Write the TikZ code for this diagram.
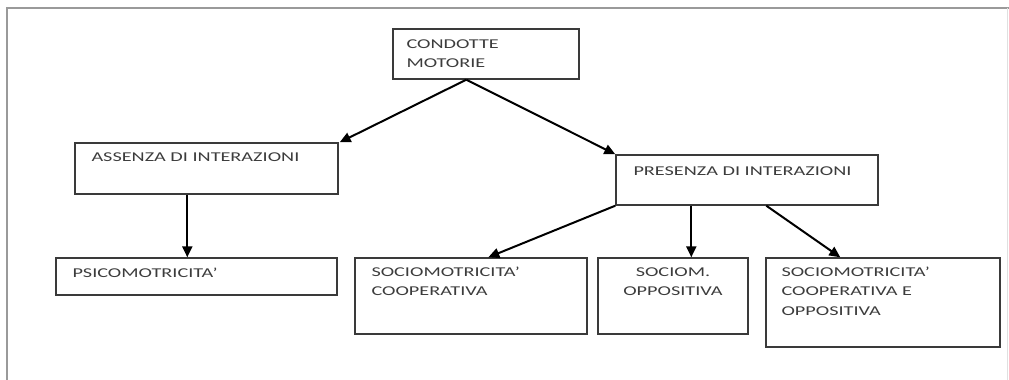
\documentclass[tikz,border=0pt]{standalone}
\usepackage{fontspec}
\setmainfont{Carlito}[FakeStretch=1.5]
\usetikzlibrary{arrows.meta,calc}
\definecolor{boxline}{HTML}{3A3A3A}
\definecolor{txt}{HTML}{3C3C3C}
\definecolor{frame}{HTML}{9A9A9A}
\begin{document}
\begin{tikzpicture}[x=1pt,y=-1pt,
  box/.style={draw=boxline,line width=1.4pt,rectangle,inner sep=0pt},
  lbl/.style={text=txt,font=\fontsize{13.5}{19.5}\selectfont,inner sep=0pt,align=left},
  conn/.style={draw=black,line width=2pt,-{Triangle[length=11pt,width=10pt]}}]
\useasboundingbox (0,0) rectangle (1009,380);
% frame
\draw[frame,line width=2pt] (7,380) coordinate (f1) -- (7,7.5) coordinate (f2) -- (1009,7.5) coordinate (f3);
\draw[black!12,line width=1pt] (1007.5,7.5) coordinate (f4) -- (1007.5,380) coordinate (f5);
% boxes
\node[box,minimum width=186pt,minimum height=50pt] (cm) at (486,54) {};
\node[box,minimum width=263pt,minimum height=51pt] (as) at (206.5,168.5) {};
\node[box,minimum width=262pt,minimum height=50pt] (pr) at (747,180) {};
\node[box,minimum width=281pt,minimum height=37pt] (ps) at (196.5,276.5) {};
\node[box,minimum width=232pt,minimum height=76pt] (sc) at (471,296) {};
\node[box,minimum width=150pt,minimum height=76pt] (so) at (673,296) {};
\node[box,minimum width=234pt,minimum height=89pt] (sco) at (883,302.5) {};
% texts (base anchor = baseline of last line)
\node[lbl,anchor=base west] (cmt) at ([xshift=14pt,yshift=-39.5pt]cm.north west) {CONDOTTE\\MOTORIE};
\node[lbl,anchor=base west] (ast) at ([xshift=17pt,yshift=-19pt]as.north west) {ASSENZA DI INTERAZIONI};
\node[lbl,anchor=base west] (prt) at ([xshift=18pt,yshift=-21pt]pr.north west) {PRESENZA DI INTERAZIONI};
\node[lbl,anchor=base west] (pst) at ([xshift=17pt,yshift=-20pt]ps.north west) {PSICOMOTRICITA’};
\node[lbl,anchor=base west] (sct) at ([xshift=17pt,yshift=-38.5pt]sc.north west) {SOCIOMOTRICITA’\\COOPERATIVA};
\node[lbl,anchor=base,align=center] (sot) at ([yshift=-38.5pt]so.north) {SOCIOM.\\OPPOSITIVA};
\node[lbl,anchor=base west] (scot) at ([xshift=16pt,yshift=-58pt]sco.north west) {SOCIOMOTRICITA’\\COOPERATIVA E\\OPPOSITIVA};
% connectors
\draw[conn] ([xshift=74pt]cm.south west) -- ([xshift=1pt]as.north east);
\draw[conn] ([xshift=74pt]cm.south west) -- (pr.north west);
\draw[conn] ([xshift=113pt]as.south west) -- ([xshift=132pt]ps.north west);
\draw[conn] (pr.south west) -- ([xshift=134pt]sc.north west);
\draw[conn] ([xshift=76pt]pr.south west) -- ([xshift=94pt]so.north west);
\draw[conn] ([xshift=151pt]pr.south west) -- ([xshift=75pt]sco.north west);
\end{tikzpicture}
\end{document}
